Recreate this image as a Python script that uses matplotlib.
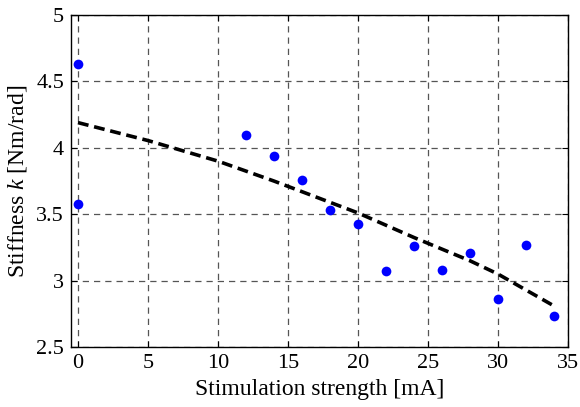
import matplotlib
matplotlib.use("Agg")
from matplotlib import pyplot as plt

# measured points
current = [0, 0, 12, 14, 16, 18, 20, 22, 24, 26, 28, 30, 32, 34]
stiffness = [4.63, 3.58, 4.10, 3.94, 3.76, 3.53, 3.43, 3.07, 3.26, 3.08, 3.21, 2.86, 3.27, 2.73]

# fitted trend (dashed)
fit_x = [0, 5, 10, 12, 14, 16, 20, 24, 28, 30, 32, 34]
fit_y = [4.19, 4.055, 3.90, 3.825, 3.75, 3.67, 3.51, 3.325, 3.15, 3.05, 2.93, 2.81]

xticks = [0, 5, 10, 15, 20, 25, 30, 35]
yticks = [2.5, 3, 3.5, 4, 4.5, 5]

plt.rcParams['font.family'] = ['Liberation Serif']
plt.rcParams['mathtext.fontset'] = 'custom'
plt.rcParams['mathtext.rm'] = 'Liberation Serif'
plt.rcParams['mathtext.it'] = 'Liberation Serif:italic'

fig = plt.figure(figsize=(5.8, 4.07), dpi=100)
ax = fig.add_axes([0.1224, 0.1474, 0.8566, 0.8156])

ax.plot(fit_x, fit_y, color='black', linestyle=(0, (3, 1.6)), linewidth=2.6, zorder=3)
ax.plot(current, stiffness, 'o', color='#0000ff', markersize=7, markeredgewidth=0, zorder=4)

ax.set_xlim(-0.5, 35)
ax.set_ylim(2.5, 5)
ax.set_xticks(xticks)
ax.set_yticks(yticks)
ax.set_yticklabels(['2.5', '3', '3.5', '4', '4.5', '5'])

ax.grid(True, color='#555555', linestyle=(0, (5, 4)), linewidth=0.9)
ax.set_axisbelow(True)
ax.tick_params(axis='both', direction='in', top=True, right=True, labelsize=16, length=4, pad=5)
for s in ax.spines.values():
    s.set_linewidth(1.0)

ax.set_xlabel('Stimulation strength [mA]', fontsize=17, labelpad=4)
ax.set_ylabel('Stiffness $k$ [Nm/rad]', fontsize=17, labelpad=5)

fig.savefig('out.png', dpi=100)
